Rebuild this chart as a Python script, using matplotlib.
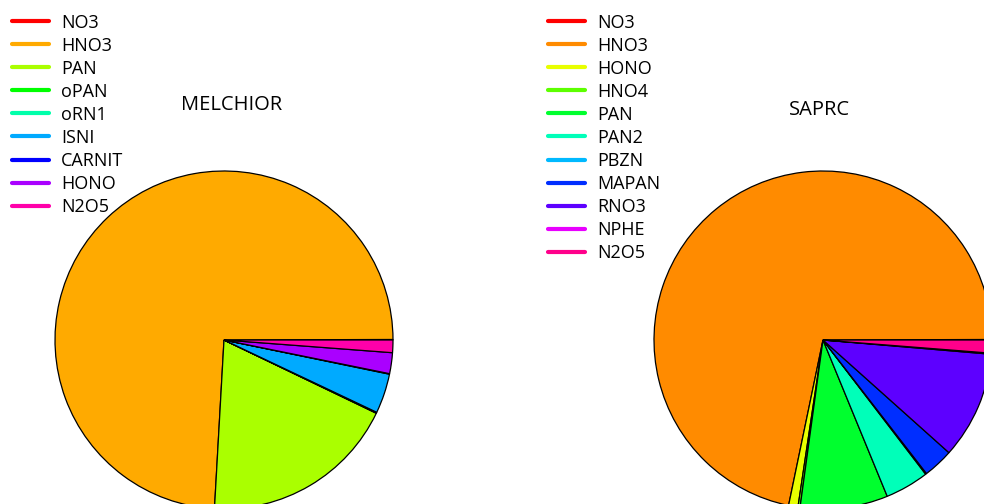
import colorsys
import matplotlib
matplotlib.use("Agg")
import matplotlib.pyplot as plt
from matplotlib.lines import Line2D

plt.rcParams['font.family'] = ['Open Sans', 'DejaVu Sans']

# MELCHIOR nitrogen species share (%)
mel_names = ["NO3", "HNO3", "PAN", "oPAN", "oRN1", "ISNI", "CARNIT", "HONO", "N2O5"]
mel_vals = [0.05, 74.2, 18.8, 0.05, 0.05, 3.8, 0.05, 2.0, 1.2]

# SAPRC nitrogen species share (%)
sap_names = ["NO3", "HNO3", "HONO", "HNO4", "PAN", "PAN2", "PBZN", "MAPAN", "RNO3", "NPHE", "N2O5"]
sap_vals = [0.05, 71.9, 0.9, 0.2, 8.4, 4.2, 0.1, 2.9, 10.3, 0.1, 1.25]


def rainbow(n):
    # same as R rainbow(n)
    end = max(1, n - 1) / n
    return [colorsys.hsv_to_rgb(end * i / (n - 1), 1, 1) for i in range(n)]


W, H = 984, 504
fig = plt.figure(figsize=(W / 100, H / 100), dpi=100)


def draw(names, vals, cx, cy, r, title, tx, ty, lx, ly):
    cols = rainbow(len(names))
    ax = fig.add_axes([(cx - r) / W, (H - cy - r) / H, 2 * r / W, 2 * r / H])
    ax.pie(vals, colors=cols, startangle=0, counterclock=True, radius=1,
           wedgeprops=dict(edgecolor="black", linewidth=0.9))
    ax.set_xlim(-1, 1)
    ax.set_ylim(-1, 1)
    ax.set_aspect("auto")
    ax.axis("off")
    fig.text(tx / W, 1 - ty / H, title, ha="center", va="center", fontsize=14.5)
    for i, (nm, c) in enumerate(zip(names, cols)):
        y = ly + i * 23.1
        fig.add_artist(Line2D([lx / W, (lx + 37) / W], [1 - y / H, 1 - y / H], color=c, lw=3,
                              solid_capstyle="round", transform=fig.transFigure))
        fig.text((lx + 49) / W, 1 - (y + 1.5) / H, nm, ha="left", va="center", fontsize=13)


draw(mel_names, mel_vals, 224, 340, 169, "MELCHIOR", 232, 105, 12, 21)
draw(sap_names, sap_vals, 823, 340, 169, "SAPRC", 820, 110, 548, 21)

fig.savefig("out.png", dpi=100)
